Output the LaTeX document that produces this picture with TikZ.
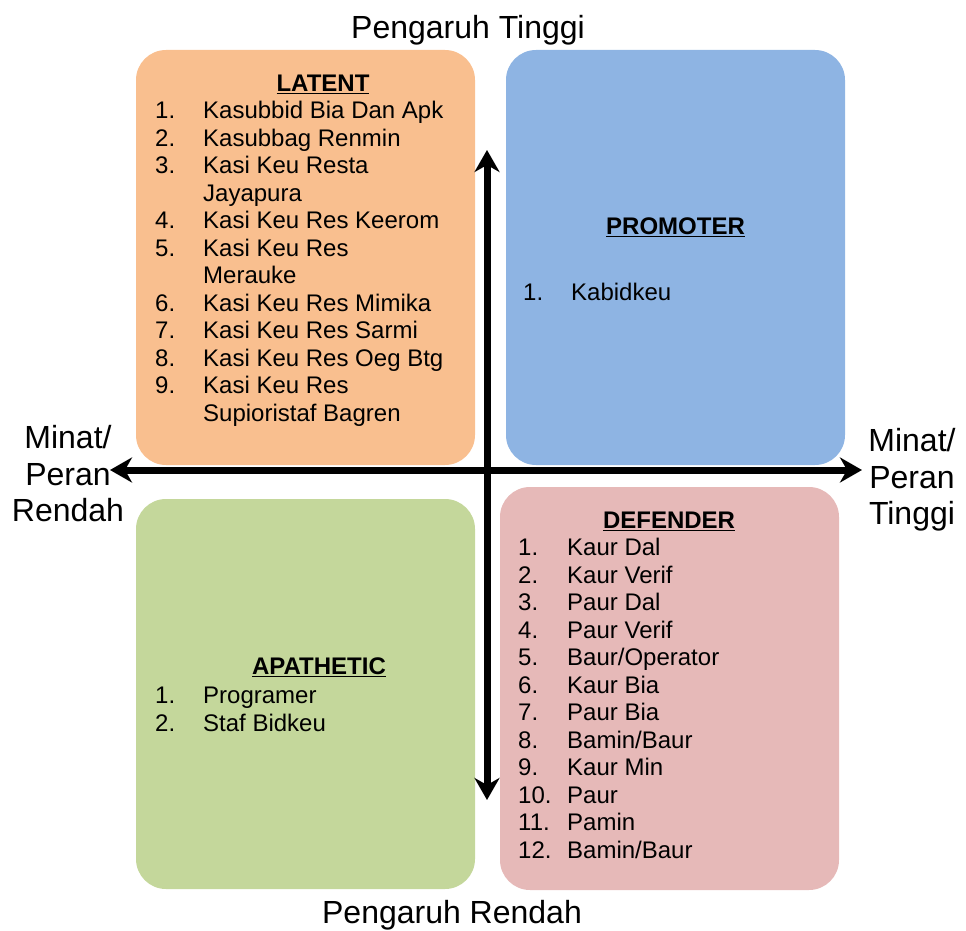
\documentclass[tikz,border=0pt]{standalone}
\usepackage{fontspec}
\setmainfont{Liberation Sans}
\usetikzlibrary{arrows.meta}
\definecolor{latentc}{HTML}{F9BF8F}
\definecolor{promoc}{HTML}{8EB4E3}
\definecolor{apac}{HTML}{C4D79B}
\definecolor{defc}{HTML}{E6B9B8}
\tikzset{
  quad/.style={rounded corners=30pt, draw=none},
  axis/.style={line width=7pt, {Stealth[length=22pt,width=25pt,inset=7pt]}-{Stealth[length=22pt,width=25pt,inset=7pt]}},
  biglabel/.style={font=\fontsize{32}{36.5}\selectfont, inner sep=0pt, align=center},
  head/.style={font=\fontsize{24}{27.5}\selectfont\bfseries, inner sep=0pt, anchor=base},
  listtxt/.style={font=\fontsize{24}{27.5}\selectfont, inner sep=0pt, anchor=north west}
}
\begin{document}
\begin{tikzpicture}[x=1pt,y=-1pt]
\useasboundingbox (0,0) rectangle (966,931);
% quadrants
\fill[latentc, quad] (136,50) rectangle (475,465);
\fill[promoc, quad] (506,50) rectangle (845,465);
\fill[apac, quad] (136,499) rectangle (475,889);
\fill[defc, quad] (500,487) rectangle (839,890);
% headings
\node[head] (hlat) at (323,91.5) {\underline{LATENT}};
\node[head] (hpro) at (675.5,234.5) {\underline{PROMOTER}};
\node[head] (hdef) at (669,528.5) {\underline{DEFENDER}};
\node[head] (hapa) at (319,674.5) {\underline{APATHETIC}};
% lists
\node[listtxt] (llat) at (155,99.25) {\begin{tabular}{@{}p{48pt}@{}l@{}}
1. & Kasubbid Bia Dan Apk\\
2. & Kasubbag Renmin\\
3. & Kasi Keu Resta\\
   & Jayapura\\
4. & Kasi Keu Res Keerom\\
5. & Kasi Keu Res\\
   & Merauke\\
6. & Kasi Keu Res Mimika\\
7. & Kasi Keu Res Sarmi\\
8. & Kasi Keu Res Oeg Btg\\
9. & Kasi Keu Res\\
   & Supioristaf Bagren
\end{tabular}};
\node[listtxt] (lpro) at (523,281.25) {\begin{tabular}{@{}p{48pt}@{}l@{}}
1. & Kabidkeu
\end{tabular}};
\node[listtxt] (ldef) at (518,536.25) {\begin{tabular}{@{}p{49pt}@{}l@{}}
1. & Kaur Dal\\
2. & Kaur Verif\\
3. & Paur Dal\\
4. & Paur Verif\\
5. & Baur/Operator\\
6. & Kaur Bia\\
7. & Paur Bia\\
8. & Bamin/Baur\\
9. & Kaur Min\\
10. & Paur\\
11. & Pamin\\
12. & Bamin/Baur
\end{tabular}};
\node[listtxt] (lapa) at (155,684.25) {\begin{tabular}{@{}p{48pt}@{}l@{}}
1. & Programer\\
2. & Staf Bidkeu
\end{tabular}};
% axes
\coordinate (vt) at (487,150);
\coordinate (vb) at (487,800);
\coordinate (hl) at (110,470);
\coordinate (hr) at (862,470);
\draw[axis] (vb) -- (vt);
\draw[axis] (hl) -- (hr);
% axis labels
\node[biglabel, anchor=base] (top) at (468,38.5) {Pengaruh Tinggi};
\node[biglabel, anchor=base] (bot) at (452,923.5) {Pengaruh Rendah};
\node[biglabel, anchor=base] (left1) at (68,448.5) {Minat/};
\node[biglabel, anchor=base] (left2) at (68,485.5) {Peran};
\node[biglabel, anchor=base] (left3) at (68,521.5) {Rendah};
\node[biglabel, anchor=base] (right1) at (912,451.5) {Minat/};
\node[biglabel, anchor=base] (right2) at (912,488.5) {Peran};
\node[biglabel, anchor=base] (right3) at (912,524.5) {Tinggi};
\end{tikzpicture}
\end{document}
